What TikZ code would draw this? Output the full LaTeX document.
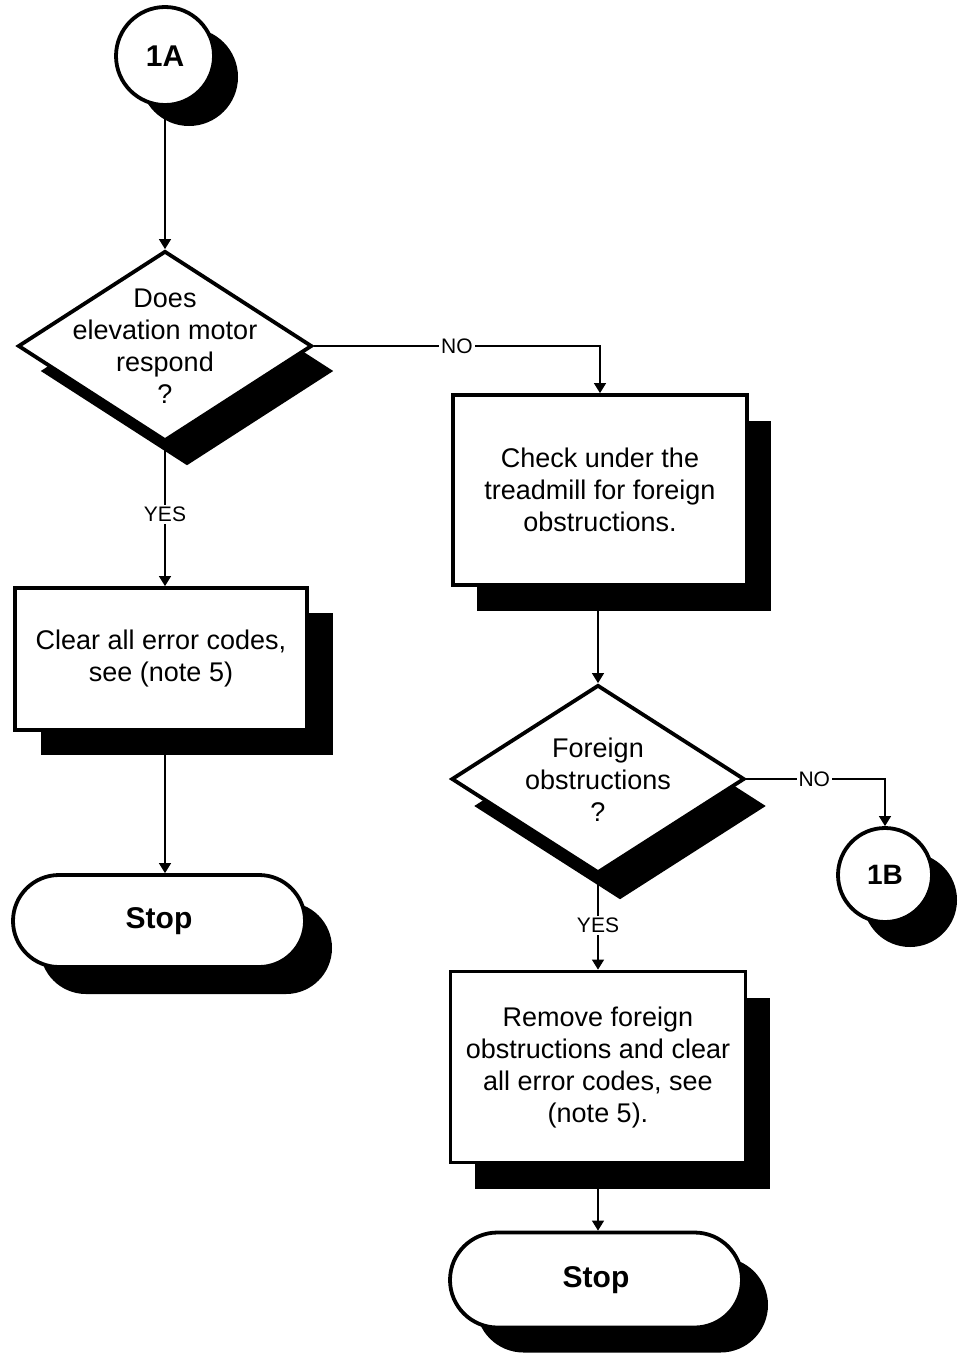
\documentclass[tikz,border=0pt]{standalone}
\usepackage{fontspec}
\setmainfont{Liberation Sans}
\usetikzlibrary{shapes.geometric,shapes.misc,shadows,arrows.meta}

\begin{document}
\begin{tikzpicture}[x=1pt,y=-1pt,
  shp/.style={draw=black, line width=3.8pt, fill=white, inner sep=0pt},
  shd/.style 2 args={drop shadow={shadow xshift=#1pt, shadow yshift=-#2pt, fill=black, opacity=1}},
  txt/.style={font=\fontsize{27}{32}\selectfont, align=center, inner sep=0pt},
  bold/.style={font=\fontsize{30}{36}\selectfont\bfseries, align=center},
  conn/.style={line width=1.3pt, -{Triangle[width=12pt,length=10pt]}},
  lbl/.style={font=\fontsize{21}{25}\selectfont, fill=white, inner sep=2pt}
]
\useasboundingbox (0,0) rectangle (968,1357);
\fill[white] (0,0) rectangle (968,1357);

% connector A (start)
\node[circle, shp, shd={24}{21}, minimum size=98pt, bold] (c1A) at (165,56) {1A};

% diamond 1
\node[diamond, shp, shd={22}{25}, minimum width=294pt, minimum height=190pt] (d1) at (165,346) {};
\node[txt] (d1t) at (165,346) {Does\\elevation motor\\respond\\?};

% box 1
\node[rectangle, shp, shd={26}{25}, minimum width=292pt, minimum height=142pt, txt] (b1) at (161,659) {Clear all error codes,\\see (note 5)};

% stop 1
\node[rounded rectangle, shp, shd={27}{27}, minimum width=292pt, minimum height=92pt, bold] (s1) at (159,921) {Stop};

% box 2
\node[rectangle, shp, shd={24}{26}, minimum width=294pt, minimum height=190pt, txt] (b2) at (600,490) {Check under the\\treadmill for foreign\\obstructions.};

% diamond 2
\node[diamond, shp, shd={22}{27}, minimum width=293pt, minimum height=188pt] (d2) at (598,779) {};
\node[txt] (d2t) at (598,780) {Foreign\\obstructions\\?};

% connector B
\node[circle, shp, shd={25}{25}, minimum size=94pt, font=\fontsize{28}{34}\selectfont\bfseries] (c1B) at (885,875) {1B};

% box 3
\node[rectangle, shp, shd={24}{26}, minimum width=295pt, minimum height=191pt, txt] (b3) at (598,1067) {Remove foreign\\obstructions and clear\\all error codes, see\\(note 5).};

% stop 2
\node[rounded rectangle, shp, shd={26}{25}, minimum width=292pt, minimum height=95pt, bold] (s2) at (596,1280) {Stop};

% connectors
\draw[conn] (c1A.south) -- (d1.north);
\draw[conn] (d1.south) -- node[lbl, pos=0.5] (y1) {YES} (d1.south |- b1.north);
\draw[conn] (d1.south |- b1.south) -- (d1.south |- s1.north);
\draw[conn] (d1.east) -| node[lbl, pos=0.25] (n1) {NO} (b2.north);
\draw[conn] (d2.north |- b2.south) -- (d2.north);
\draw[conn] (d2.east) -| node[lbl, pos=0.245] (n2) {NO} (c1B.north);
\draw[conn] (d2.south) -- node[lbl, pos=0.53] (y2) {YES} (d2.south |- b3.north);
\draw[conn] (b3.south) -- (b3.south |- s2.north);
\end{tikzpicture}
\end{document}
